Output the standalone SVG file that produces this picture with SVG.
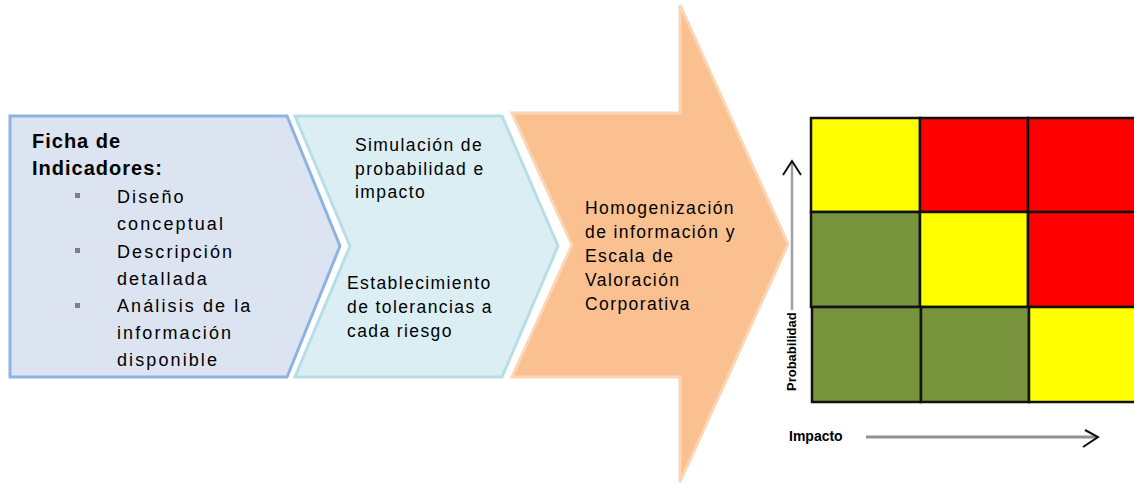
<svg xmlns="http://www.w3.org/2000/svg" width="1134" height="484" viewBox="0 0 1134 484">
<style>
.t{font-family:"Liberation Sans",Arial,sans-serif;fill:#000}
.b{font-family:"Liberation Sans",Arial,sans-serif;font-weight:bold;fill:#000}
.l1{font-size:18px;letter-spacing:2.1px}
.l2{font-size:17.5px;letter-spacing:1.4px}
.cell{stroke:#111;stroke-width:2.5}
.y{fill:#ffff00}.r{fill:#ff0000}.g{fill:#77933c}
</style>
<rect width="1134" height="484" fill="#fff"/>
<g id="ficha">
<polygon points="10,116 287,116 340,246 287,377 10,377" fill="#dbe4f0" stroke="#8db3e2" stroke-width="3"/>
<text class="b" font-size="20" letter-spacing="1" x="32" y="148">Ficha de</text>
<text class="b" font-size="20" letter-spacing="1" x="32" y="175">Indicadores:</text>
<g fill="#808080"><rect x="75" y="193" width="5" height="5"/><rect x="75" y="248" width="5" height="5"/><rect x="75" y="303" width="5" height="5"/></g>
<text class="t l1" x="117" y="203">Diseño</text>
<text class="t l1" x="117" y="230">conceptual</text>
<text class="t l1" x="117" y="258">Descripción</text>
<text class="t l1" x="117" y="285">detallada</text>
<text class="t l1" x="117" y="312">Análisis de la</text>
<text class="t l1" x="117" y="339">información</text>
<text class="t l1" x="117" y="366">disponible</text>
</g>
<g id="simulacion">
<polygon points="295,116 502,116 558,246 502,377 295,377 350,246" fill="#dbeef4" stroke="#b7dee8" stroke-width="3"/>
<text class="t l2" x="355" y="151">Simulación de</text>
<text class="t l2" x="355" y="175">probabilidad e</text>
<text class="t l2" x="355" y="198">impacto</text>
<text class="t l2" x="347" y="289">Establecimiento</text>
<text class="t l2" x="347" y="313">de tolerancias a</text>
<text class="t l2" x="347" y="337">cada riesgo</text>
</g>
<g id="homogenizacion">
<polygon points="512,113 680,113 680,5 788,244 680,482 680,377 512,377 572,245" fill="#fac090" stroke="#fcd5b5" stroke-width="3"/>
<text class="t l2" x="585" y="214">Homogenización</text>
<text class="t l2" x="585" y="238">de información y</text>
<text class="t l2" x="585" y="262">Escala de</text>
<text class="t l2" x="585" y="286">Valoración</text>
<text class="t l2" x="585" y="310">Corporativa</text>
</g>
<g id="matriz">
<rect class="cell y" x="811" y="118" width="109" height="94"/>
<rect class="cell r" x="920" y="118" width="108" height="94"/>
<rect class="cell r" x="1028" y="118" width="108" height="94"/>
<rect class="cell g" x="811" y="212" width="109" height="95"/>
<rect class="cell y" x="920" y="212" width="108" height="95"/>
<rect class="cell r" x="1028" y="212" width="108" height="95"/>
<rect class="cell g" x="812" y="307" width="109" height="95"/>
<rect class="cell g" x="921" y="307" width="108" height="95"/>
<rect class="cell y" x="1029" y="307" width="108" height="95"/>
</g>
<g id="ejes">
<line x1="792" y1="310" x2="792" y2="162" stroke="#a0a0a0" stroke-width="2.5"/>
<polyline points="783,175 792,161 801,175" fill="none" stroke="#111" stroke-width="2"/>
<line x1="866" y1="437" x2="1097" y2="437" stroke="#909090" stroke-width="3"/>
<polyline points="1085,430 1098,437 1083,447" fill="none" stroke="#111" stroke-width="2"/>
</g>
<text id="probabilidad" class="b" font-size="13" transform="translate(796,391) rotate(-90)">Probabilidad</text>
<text id="impacto" class="b" font-size="14" x="789" y="441">Impacto</text>
</svg>
